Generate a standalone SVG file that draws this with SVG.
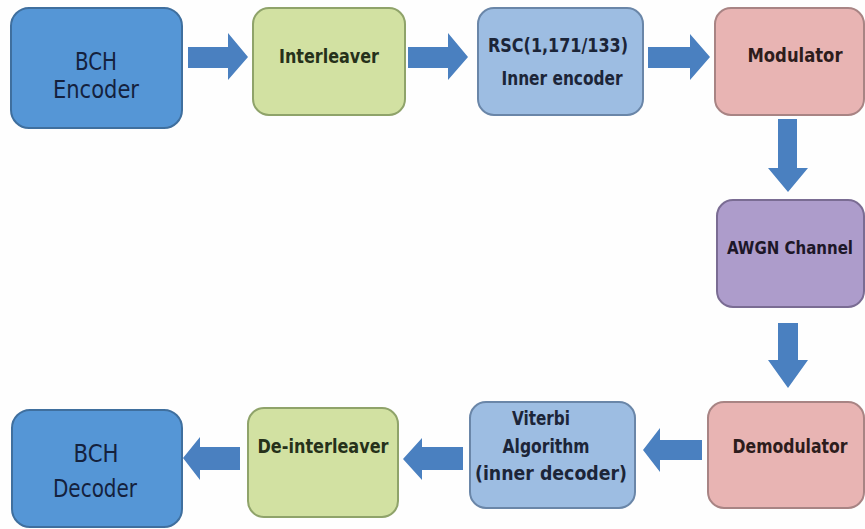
<svg xmlns="http://www.w3.org/2000/svg" width="865" height="529" viewBox="0 0 865 529">
<style>
.t{font-family:"Liberation Sans Narrow","DejaVu Sans Condensed","Liberation Sans",sans-serif;font-weight:bold;text-anchor:middle;}
.big{font-size:24px;fill:#14213d;font-weight:normal;}
.sm{font-size:19px;}
.blue{fill:#5596d6;stroke:#3f6f9e;stroke-width:2;}
.green{fill:#d2e1a2;stroke:#8fa36a;stroke-width:2;}
.lblue{fill:#9dbde2;stroke:#6a86a8;stroke-width:2;}
.pink{fill:#e8b4b3;stroke:#a88484;stroke-width:2;}
.purple{fill:#ad9ccb;stroke:#7a6c93;stroke-width:2;}
.arr{fill:#4a80c0;}
</style>
<rect width="865" height="529" fill="#fefefe"/>
<g id="connectors">
<path class="arr" d="M188,47 H228 V33 L248,57 L228,80 V68 H188 Z"/>
<path class="arr" d="M408,47 H448 V33 L468,57 L448,80 V68 H408 Z"/>
<path class="arr" d="M648,47 H690 V34 L710,57 L690,80 V68 H648 Z"/>
<path class="arr" d="M778,119 H797 V168 H808 L788,192 L768,168 H778 Z"/>
<path class="arr" d="M778,323 H798 V360 H808 L788,388 L768,360 H778 Z"/>
<path class="arr" d="M702,440 H660 V428 L643,450 L660,472 V460 H702 Z"/>
<path class="arr" d="M463,447 H422 V438 L403,459 L422,480 V470 H463 Z"/>
<path class="arr" d="M240,447 H200 V437 L183,458 L200,480 V470 H240 Z"/>
</g>
<g id="bch-encoder">
<rect class="blue" x="11" y="8" width="171" height="120" rx="18"/>
<text class="t big" x="96" y="70" textLength="42" lengthAdjust="spacingAndGlyphs">BCH</text>
<text class="t big" x="96" y="98" textLength="86" lengthAdjust="spacingAndGlyphs">Encoder</text>
</g>
<g id="interleaver">
<rect class="green" x="253" y="8" width="152" height="107" rx="16"/>
<text class="t sm" x="329" y="63" fill="#26311a" textLength="100" lengthAdjust="spacingAndGlyphs">Interleaver</text>
</g>
<g id="rsc">
<rect class="lblue" x="478" y="8" width="165" height="107" rx="16"/>
<text class="t sm" x="558" y="52" fill="#1c2538" textLength="140" lengthAdjust="spacingAndGlyphs">RSC(1,171/133)</text>
<text class="t sm" x="562" y="85" fill="#1c2538" textLength="121" lengthAdjust="spacingAndGlyphs">Inner encoder</text>
</g>
<g id="modulator">
<rect class="pink" x="715" y="8" width="149" height="107" rx="16"/>
<text class="t sm" x="795" y="62" fill="#2d1c1c" textLength="95" lengthAdjust="spacingAndGlyphs">Modulator</text>
</g>
<g id="awgn">
<rect class="purple" x="717" y="200" width="147" height="107" rx="16"/>
<text class="t" x="790" y="254" font-size="18" fill="#1d1728" textLength="126" lengthAdjust="spacingAndGlyphs">AWGN Channel</text>
</g>
<g id="demodulator">
<rect class="pink" x="708" y="402" width="156" height="106" rx="16"/>
<text class="t sm" x="790" y="453" fill="#2d1c1c" textLength="115" lengthAdjust="spacingAndGlyphs">Demodulator</text>
</g>
<g id="viterbi">
<rect class="lblue" x="470" y="402" width="165" height="106" rx="16"/>
<text class="t sm" x="541" y="425" fill="#1c2538" textLength="58" lengthAdjust="spacingAndGlyphs">Viterbi</text>
<text class="t sm" x="546" y="453" fill="#1c2538" textLength="87" lengthAdjust="spacingAndGlyphs">Algorithm</text>
<text class="t sm" x="551" y="480" fill="#1c2538" textLength="152" lengthAdjust="spacingAndGlyphs">(inner decoder)</text>
</g>
<g id="de-interleaver">
<rect class="green" x="248" y="408" width="150" height="109" rx="16"/>
<text class="t sm" x="323" y="453" fill="#26311a" textLength="131" lengthAdjust="spacingAndGlyphs">De-interleaver</text>
</g>
<g id="bch-decoder">
<rect class="blue" x="12" y="410" width="170" height="117" rx="18"/>
<text class="t big" x="96" y="462" textLength="45" lengthAdjust="spacingAndGlyphs">BCH</text>
<text class="t big" x="95" y="497" textLength="84" lengthAdjust="spacingAndGlyphs">Decoder</text>
</g>
</svg>
